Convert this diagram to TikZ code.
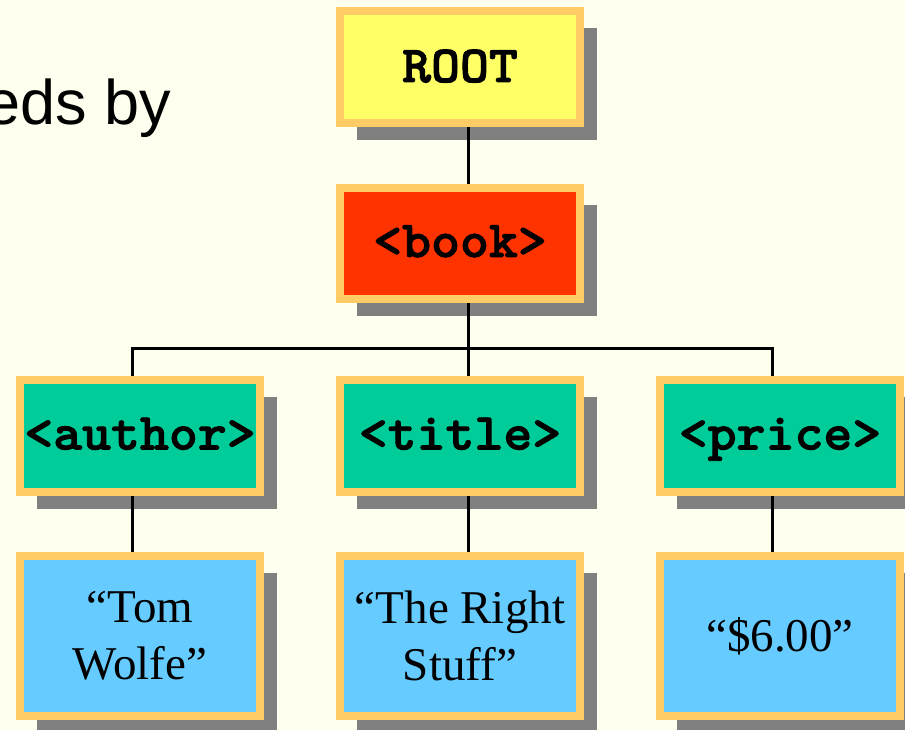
\documentclass[tikz,border=0pt]{standalone}
\usepackage{fontspec}
\setmainfont{Liberation Serif}
\newfontfamily\tagfont{lmmonolt10-bold.otf}[FakeBold=1.8, FakeStretch=1.06]
\newfontfamily\slidefont{Liberation Sans}
\usepackage{xcolor}
\usetikzlibrary{shadows}

\definecolor{slidebg}{HTML}{FFFFF0}
\definecolor{boxrim}{HTML}{FFCC66}
\definecolor{rootfill}{HTML}{FFFF66}
\definecolor{bookfill}{HTML}{FF3300}
\definecolor{tagfill}{HTML}{00CC99}
\definecolor{textfill}{HTML}{66CCFF}
\definecolor{shade}{HTML}{808080}

\tikzset{
    box/.style={draw=boxrim, line width=8pt, inner sep=0pt,
        minimum width=240pt, minimum height=112pt,
        drop shadow={shadow xshift=17pt, shadow yshift=-17pt,
            fill=shade, opacity=1}},
    tag/.style={box, font=\fontsize{52}{57}\selectfont\tagfont,
        text height=29pt, text depth=2pt},
    leaf/.style={box, fill=textfill, minimum height=160pt, align=center,
        font=\fontsize{47}{57}\selectfont},
    link/.style={line width=3pt}
}

\begin{document}
\begin{tikzpicture}[x=1pt, y=-1pt]
    \fill [slidebg] (0, 0) rectangle (905, 730);
    \useasboundingbox (0, 0) rectangle (905, 730);

    \path (171, 125) node [anchor=base east, inner sep=0pt,
        font=\fontsize{63}{70}\selectfont\slidefont] (intro) {eds by};

    \path (460, 67) node [tag, fill=rootfill, text height=30pt, text depth=0pt] (root) {ROOT};
    \path (460, 243.5) node [tag, fill=bookfill, minimum height=111pt] (book) {<book>};
    \path (140, 436) node [tag, fill=tagfill] (author) {<author>};
    \path (460, 436) node [tag, fill=tagfill] (title) {<title>};
    \path (780, 436) node [tag, fill=tagfill] (price) {<price>};

    \path (140, 636) node [leaf] (tw) {“Tom\\Wolfe”};
    \path (460, 636) node [leaf] (trs) {“The Right\\Stuff”};
    \path (780, 636) node [leaf] (six) {“\$6.00”};

    \coordinate (bus) at (0, 348);
    \draw [link] ([xshift=8pt]root.south) -- ([xshift=8pt]book.north);
    \draw [link] ([xshift=8pt]book.south) -- ([xshift=8pt]title.north);
    \draw [link] ([xshift=-8pt]author.north) -- ([xshift=-8pt]author.north |- bus)
        -- ([xshift=-8pt]price.north |- bus) -- ([xshift=-8pt]price.north);
    \draw [link] ([xshift=-8pt]author.south) -- ([xshift=-8pt]tw.north);
    \draw [link] ([xshift=8pt]title.south) -- ([xshift=8pt]trs.north);
    \draw [link] ([xshift=-8pt]price.south) -- ([xshift=-8pt]six.north);
\end{tikzpicture}
\end{document}
